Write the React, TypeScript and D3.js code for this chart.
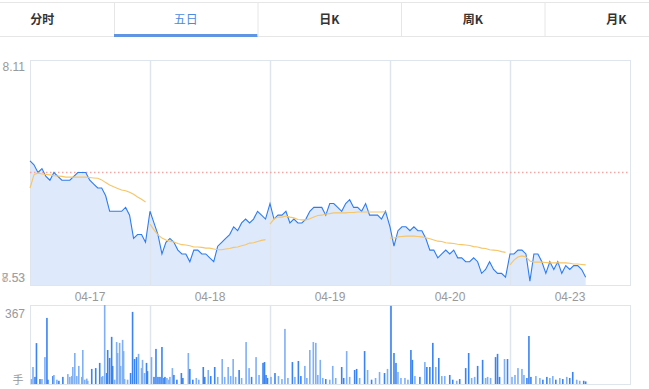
import React, { useRef, useEffect } from 'react';
import * as d3 from 'd3';

const W = 649;
const H = 389;

const tabs = ['分时', '五日', '日K', '周K', '月K'];
const activeTab = 1;
const days = ['04-17', '04-18', '04-19', '04-20', '04-23'];
const priceTop = 8.11;
const priceBottom = 7.53;
const preClose = 7.82;
const volTop = 367;
const volUnit = '手';
const minutesPerDay = 241;
const step = 8; // minutes between price samples

// price samples every 8 minutes, per day
const price1 = [7.85, 7.84, 7.82, 7.83, 7.81, 7.80, 7.82, 7.81, 7.80, 7.80, 7.80, 7.81, 7.82, 7.82, 7.82,
  7.80, 7.79, 7.78, 7.78, 7.76, 7.72, 7.72, 7.72, 7.72, 7.73, 7.71, 7.65, 7.66, 7.66, 7.64];
const price2 = [7.72, 7.69, 7.66, 7.61, 7.64, 7.65, 7.64, 7.62, 7.61, 7.61, 7.59, 7.62, 7.62, 7.61, 7.61,
  7.60, 7.59, 7.63, 7.64, 7.65, 7.66, 7.68, 7.67, 7.69, 7.70, 7.69, 7.70, 7.72, 7.71, 7.70];
const price3 = [7.74, 7.70, 7.71, 7.71, 7.72, 7.69, 7.70, 7.69, 7.69, 7.70, 7.72, 7.73, 7.73, 7.73, 7.71,
  7.74, 7.74, 7.73, 7.72, 7.74, 7.75, 7.73, 7.73, 7.72, 7.74, 7.71, 7.71, 7.71, 7.70, 7.72];
const price4 = [7.68, 7.63, 7.67, 7.68, 7.68, 7.67, 7.68, 7.67, 7.67, 7.65, 7.62, 7.62, 7.60, 7.61, 7.62,
  7.61, 7.62, 7.60, 7.60, 7.59, 7.59, 7.60, 7.59, 7.56, 7.57, 7.59, 7.57, 7.56, 7.56, 7.55];
const price5 = [7.61, 7.61, 7.62, 7.62, 7.61, 7.54, 7.61, 7.61, 7.59, 7.56, 7.59, 7.57, 7.59, 7.56, 7.58,
  7.57, 7.58, 7.58, 7.57, 7.55];

// average price line
const avg1 = [7.780, 7.814, 7.819, 7.816, 7.815, 7.814, 7.812, 7.811, 7.810, 7.808, 7.808, 7.808, 7.808, 7.808, 7.808,
  7.807, 7.806, 7.805, 7.801, 7.794, 7.788, 7.783, 7.779, 7.775, 7.773, 7.769, 7.764, 7.757, 7.751, 7.744];
const avg2 = [7.687, 7.672, 7.659, 7.651, 7.646, 7.643, 7.641, 7.637, 7.634, 7.633, 7.631, 7.628, 7.628, 7.627, 7.625,
  7.625, 7.623, 7.621, 7.621, 7.623, 7.624, 7.627, 7.628, 7.631, 7.634, 7.638, 7.639, 7.642, 7.645, 7.647];
const avg3 = [7.687, 7.700, 7.705, 7.705, 7.708, 7.705, 7.703, 7.699, 7.698, 7.698, 7.701, 7.705, 7.709, 7.710, 7.713,
  7.714, 7.716, 7.716, 7.716, 7.716, 7.717, 7.717, 7.718, 7.718, 7.718, 7.718, 7.718, 7.718, 7.718, 7.719];
const avg4 = [7.651, 7.651, 7.654, 7.655, 7.656, 7.656, 7.656, 7.655, 7.654, 7.652, 7.649, 7.646, 7.643, 7.642, 7.639,
  7.638, 7.637, 7.635, 7.634, 7.633, 7.632, 7.629, 7.628, 7.625, 7.624, 7.621, 7.620, 7.619, 7.616, 7.614];
const avg5 = [7.582, 7.594, 7.602, 7.605, 7.602, 7.592, 7.589, 7.589, 7.589, 7.588, 7.587, 7.587, 7.587, 7.587, 7.587,
  7.586, 7.584, 7.584, 7.583, 7.582];

// volume: [minute of day, volume]
const vol1 = [[3, 23], [6, 79], [10, 33], [13, 190], [20, 23], [24, 23], [30, 125], [34, 307], [36, 20], [46, 37], [48, 42],
  [54, 20], [58, 15], [66, 33], [76, 46], [80, 33], [84, 37], [86, 79], [90, 144], [94, 37], [98, 84], [104, 33],
  [106, 158], [110, 20], [114, 25], [116, 15], [124, 70], [132, 74], [140, 98], [144, 33], [146, 37], [150, 367],
  [154, 51], [156, 158], [160, 121], [164, 219], [166, 84], [170, 20], [174, 195], [176, 144], [180, 191], [182, 84],
  [186, 205], [188, 153], [190, 23], [196, 20], [202, 51], [206, 335], [210, 116], [214, 125], [218, 140], [224, 74],
  [226, 112], [230, 51], [234, 98], [236, 60]];
const vol2 = [[3, 125], [8, 33], [12, 163], [16, 33], [20, 33], [24, 172], [28, 28], [30, 33], [34, 28], [38, 20],
  [40, 33], [45, 74], [48, 42], [54, 20], [63, 51], [66, 28], [77, 144], [80, 70], [86, 20], [93, 28], [98, 20],
  [107, 79], [110, 33], [117, 65], [122, 37], [130, 79], [136, 33], [145, 116], [150, 33], [157, 79], [162, 37],
  [167, 116], [172, 33], [179, 65], [184, 28], [193, 195], [199, 74], [204, 33], [213, 125], [219, 42], [227, 98],
  [230, 102], [233, 42], [236, 28]];
const vol3 = [[2, 33], [10, 51], [17, 37], [24, 23], [30, 256], [36, 28], [45, 102], [50, 33], [57, 107], [62, 37],
  [70, 84], [74, 28], [80, 158], [87, 195], [92, 191], [96, 42], [101, 112], [106, 28], [112, 23], [120, 20],
  [126, 84], [132, 28], [144, 79], [148, 28], [154, 153], [160, 33], [170, 65], [174, 70], [180, 28], [190, 153],
  [196, 65], [204, 20], [212, 28], [220, 56], [230, 51], [236, 70]];
const vol4 = [[2, 363], [8, 144], [12, 98], [16, 56], [22, 28], [30, 28], [36, 20], [42, 158], [45, 112], [50, 37],
  [60, 33], [70, 102], [74, 79], [80, 79], [86, 191], [92, 79], [98, 121], [104, 37], [110, 37], [120, 42],
  [126, 20], [134, 15], [140, 23], [152, 74], [158, 144], [164, 28], [170, 33], [176, 84], [186, 112], [192, 28],
  [196, 33], [202, 28], [212, 125], [216, 140], [220, 33], [230, 116], [236, 116]];
const vol5 = [[4, 33], [10, 42], [16, 74], [24, 70], [28, 42], [34, 28], [38, 223], [42, 33], [52, 37], [60, 28],
  [66, 20], [74, 33], [80, 28], [86, 37], [92, 20], [100, 28], [106, 23], [114, 33], [120, 28], [126, 56],
  [134, 20], [140, 15], [148, 15], [152, 12]];

const prices = [price1, price2, price3, price4, price5];
const avgs = [avg1, avg2, avg3, avg4, avg5];
const vols = [vol1, vol2, vol3, vol4, vol5];

const App = () => {
  const svgRef = useRef<SVGSVGElement>(null);

  useEffect(() => {
    const svg = d3.select(svgRef.current);
    svg.selectAll('*').remove();

    const left = 30, right = 630;
    const pTop = 60, pBottom = 285;
    const vTop = 305, vBottom = 384;
    const gridColor = '#dfe5ec';
    const textColor = '#999';
    const font = 'Arial, "Liberation Sans", sans-serif';

    svg.append('rect').attr('width', W).attr('height', H).attr('fill', '#fff');

    // tab bar
    const tabW = 143.5;
    const tabX0 = -29.5;
    const tabs_g = svg.append('g');
    tabs_g.append('line').attr('x1', 0).attr('x2', W).attr('y1', 2.5).attr('y2', 2.5).attr('stroke', '#e6e6e6');
    tabs_g.append('line').attr('x1', 0).attr('x2', W).attr('y1', 36.5).attr('y2', 36.5).attr('stroke', '#e6e6e6');
    tabs.forEach((t, i) => {
      const x0 = tabX0 + i * tabW;
      if (i > 0) {
        tabs_g.append('line').attr('x1', x0 + 0.5).attr('x2', x0 + 0.5).attr('y1', 3).attr('y2', 36)
          .attr('stroke', '#e6e6e6');
      }
      if (i === activeTab) {
        tabs_g.append('rect').attr('x', x0).attr('y', 34).attr('width', tabW).attr('height', 3).attr('fill', '#5f95e3');
      }
      tabs_g.append('text')
        .attr('x', x0 + tabW / 2)
        .attr('y', 21)
        .attr('text-anchor', 'middle')
        .attr('dominant-baseline', 'middle')
        .attr('font-family', '"Noto Sans CJK SC", sans-serif')
        .attr('font-size', 12)
        .attr('font-weight', i === activeTab ? 'normal' : 'bold')
        .attr('fill', i === activeTab ? '#4a8be0' : '#333')
        .text(t);
    });

    // scales
    const x = d3.scaleLinear().domain([0, days.length * minutesPerDay]).range([left, right]);
    const y = d3.scaleLinear().domain([priceBottom, priceTop]).range([pBottom, pTop]);
    const yv = d3.scaleLinear().domain([0, volTop]).range([vBottom, vTop]);

    const pts = prices.flatMap((arr, d) => arr.map((p, i) => ({ t: d * minutesPerDay + i * step, p })));

    // area
    const areaGen = d3.area<any>().x((d) => x(d.t)).y0(pBottom).y1((d) => y(d.p));
    svg.append('path').attr('d', areaGen(pts)).attr('fill', '#dee9fb');

    // panel borders and day separators
    svg.append('rect').attr('x', left + 0.5).attr('y', pTop + 0.5).attr('width', right - left).attr('height', pBottom - pTop)
      .attr('fill', 'none').attr('stroke', gridColor);
    svg.append('rect').attr('x', left + 0.5).attr('y', vTop + 0.5).attr('width', right - left).attr('height', vBottom - vTop)
      .attr('fill', 'none').attr('stroke', gridColor);
    for (let d = 1; d < days.length; d++) {
      const xs = Math.round(x(d * minutesPerDay)) + 0.5;
      svg.append('line').attr('x1', xs).attr('x2', xs).attr('y1', pTop).attr('y2', pBottom)
        .attr('stroke', gridColor).attr('stroke-width', 1.5);
      svg.append('line').attr('x1', xs).attr('x2', xs).attr('y1', vTop).attr('y2', vBottom)
        .attr('stroke', gridColor).attr('stroke-width', 1.5);
    }

    // pre-close dotted line
    svg.append('line')
      .attr('x1', left).attr('x2', right)
      .attr('y1', y(preClose)).attr('y2', y(preClose))
      .attr('stroke', '#f4a5a5').attr('stroke-width', 1.5)
      .style('stroke-dasharray', '1.5, 2.5');

    const lineGen = d3.line<any>().x((d) => x(d.t)).y((d) => y(d.p));
    svg.append('path').attr('d', lineGen(pts)).attr('fill', 'none').attr('stroke', '#2f7cf0').attr('stroke-width', 1.1);

    avgs.forEach((arr, d) => {
      const ap = arr.map((p, i) => ({ t: d * minutesPerDay + i * step, p }));
      svg.append('path').attr('d', lineGen(ap)).attr('fill', 'none').attr('stroke', '#f6c566').attr('stroke-width', 1.1);
    });

    // volume bars
    vols.forEach((arr, d) => {
      const pr = prices[d];
      arr.forEach(([t, v]) => {
        const slot = Math.min(Math.floor(t / step), pr.length - 1);
        const prev = slot > 0 ? pr[slot - 1] : (d > 0 ? prices[d - 1][prices[d - 1].length - 1] : preClose);
        const up = pr[slot] >= prev;
        svg.append('rect')
          .attr('x', x(d * minutesPerDay + t) - 0.8)
          .attr('y', yv(v))
          .attr('width', 1.6)
          .attr('height', vBottom - yv(v))
          .attr('fill', up ? '#7fb0f6' : '#3a84f2');
      });
    });

    // labels
    const lbl = (tx: string, lx: number, ly: number, anchor = 'end') =>
      svg.append('text').attr('x', lx).attr('y', ly).attr('text-anchor', anchor)
        .attr('font-family', font).attr('font-size', 12).attr('fill', textColor).text(tx);

    lbl(priceTop.toFixed(2), 25, 71);
    lbl(priceBottom.toFixed(2), 25, 282).attr('opacity', 0.6);
    lbl('8.53', 25, 282).attr('opacity', 0.8);
    days.forEach((d, i) => lbl(d, x(i * minutesPerDay + minutesPerDay / 2), 301, 'middle'));
    lbl(String(volTop), 25, 318);
    svg.append('text').attr('x', 18).attr('y', 384).attr('text-anchor', 'middle')
      .attr('font-family', '"Noto Sans CJK SC", sans-serif').attr('font-size', 11).attr('fill', textColor).text(volUnit);
  }, []);

  return (
    <svg ref={svgRef} width={W} height={H} style={{ position: 'absolute', left: 0, top: 0, display: 'block' }} />
  );
};

export default App;
